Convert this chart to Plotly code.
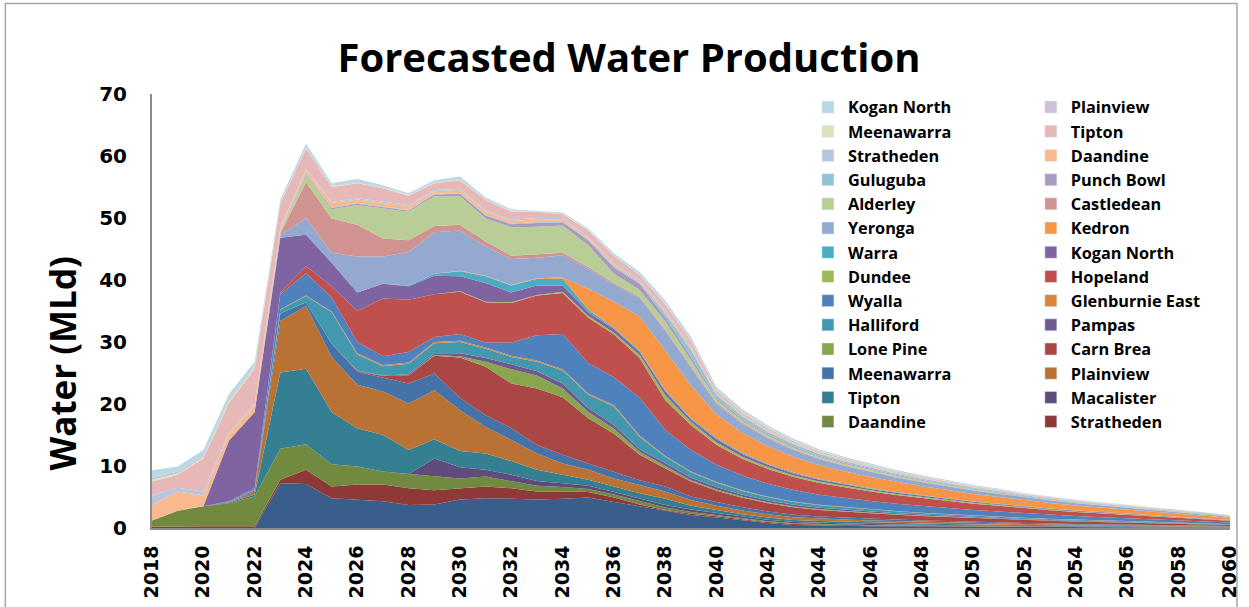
import plotly.graph_objects as go

# Forecast years
years = list(range(2018, 2061))

# Water production per field (MLd), stacked bottom-up
other = [0, 0, 0, 0, 0, 7.2, 7.1, 4.8, 4.6, 4.3, 3.7, 3.8, 4.6, 4.8, 4.7, 4.6, 4.7, 4.9, 4.2, 3.5, 2.7, 2.1, 1.7,
         1.2, 0.8, 0.5, 0.4, 0.35, 0.3, 0.27, 0.24, 0.22, 0.2, 0.18, 0.16, 0.15, 0.13, 0.12, 0.11, 0.1, 0.09, 0.08, 0.06]
stratheden_a = [0.2, 0.3, 0.3, 0.3, 0.3, 0.6, 2.3, 1.9, 2.4, 2.7, 2.7, 2.3, 1.8, 1.9, 1.7, 1.3, 1.2, 0.9, 0.7, 0.3, 0.2, 0.2, 0.2,
                0.17, 0.15, 0.13, 0.12, 0.11, 0.1, 0.09, 0.08, 0.07, 0.06, 0.06, 0.05, 0.05, 0.04, 0.04, 0.03, 0.03, 0.03, 0.02, 0.02]
daandine_a = [1.0, 2.5, 3.2, 3.7, 4.8, 5.0, 4.1, 3.6, 2.9, 2.1, 2.3, 2.2, 1.6, 1.6, 1.1, 0.9, 0.7, 0.5, 0.5, 0.5, 0.4, 0.3, 0.2,
              0.17, 0.15, 0.13, 0.12, 0.11, 0.1, 0.09, 0.08, 0.07, 0.06, 0.06, 0.05, 0.05, 0.04, 0.04, 0.03, 0.03, 0.03, 0.02, 0.02]
macalister = [0, 0, 0, 0, 0, 0, 0, 0, 0, 0, 0, 2.9, 1.8, 1.1, 1.1, 0.8, 0.6, 0.5, 0.4, 0.4, 0.4, 0.4, 0.3,
              0.26, 0.22, 0.2, 0.18, 0.16, 0.14, 0.13, 0.12, 0.11, 0.1, 0.09, 0.08, 0.07, 0.06, 0.06, 0.05, 0.05, 0.04, 0.04, 0.03]
tipton_a = [0, 0, 0, 0.1, 0.3, 12.3, 12.2, 8.4, 6.2, 5.9, 3.9, 3.1, 2.6, 2.6, 2.2, 1.8, 1.4, 1.0, 0.9, 0.9, 1.0, 0.6, 0.5,
            0.43, 0.37, 0.33, 0.29, 0.26, 0.24, 0.22, 0.2, 0.18, 0.16, 0.15, 0.13, 0.12, 0.11, 0.1, 0.09, 0.08, 0.07, 0.06, 0.05]
plainview_a = [0, 0, 0, 0, 0.5, 8.3, 10.1, 8.9, 7.0, 7.0, 7.5, 7.9, 6.6, 4.3, 3.4, 2.6, 1.8, 1.6, 1.3, 1.3, 1.2, 0.9, 0.7,
               0.6, 0.52, 0.46, 0.41, 0.37, 0.33, 0.3, 0.27, 0.25, 0.22, 0.2, 0.18, 0.16, 0.15, 0.13, 0.12, 0.11, 0.1, 0.08, 0.07]
meenawarra_a = [0, 0, 0, 0.1, 0.2, 1.2, 0.6, 2.1, 2.1, 2.3, 3.2, 2.7, 2.0, 1.9, 1.9, 1.4, 1.4, 1.0, 1.0, 0.8, 0.8, 0.6, 0.6,
                0.51, 0.45, 0.4, 0.35, 0.32, 0.29, 0.26, 0.23, 0.21, 0.19, 0.17, 0.16, 0.14, 0.13, 0.11, 0.1, 0.09, 0.08, 0.07, 0.06]
carn_brea = [0, 0, 0, 0, 0, 0, 0, 0, 0.1, 0.2, 1.3, 2.9, 6.5, 7.8, 7.2, 9.1, 9.3, 7.3, 6.2, 4.1, 2.9, 2.4, 1.8,
             1.53, 1.34, 1.19, 1.05, 0.95, 0.86, 0.77, 0.7, 0.64, 0.58, 0.52, 0.47, 0.42, 0.38, 0.34, 0.31, 0.28, 0.24, 0.21, 0.17]
lone_pine = [0, 0, 0, 0, 0, 0, 0, 0, 0, 0, 0, 0.1, 0.2, 0.8, 2.3, 2.1, 1.4, 1.0, 0.8, 0.5, 0.4, 0.2, 0.2,
             0.17, 0.15, 0.13, 0.12, 0.11, 0.1, 0.09, 0.08, 0.07, 0.06, 0.06, 0.05, 0.05, 0.04, 0.04, 0.03, 0.03, 0.03, 0.02, 0.02]
pampas = [0, 0, 0, 0, 0, 0, 0, 0, 0.1, 0.1, 0.2, 0.3, 0.5, 0.6, 0.8, 0.7, 0.8, 0.6, 0.6, 0.4, 0.5, 0.4, 0.4,
          0.34, 0.3, 0.26, 0.23, 0.21, 0.19, 0.17, 0.16, 0.14, 0.13, 0.12, 0.1, 0.09, 0.08, 0.08, 0.07, 0.06, 0.05, 0.05, 0.04]
halliford = [0, 0, 0, 0, 0.1, 0.6, 1.0, 5.1, 2.6, 1.5, 1.7, 1.6, 1.8, 1.5, 1.2, 1.5, 2.1, 2.2, 3.0, 2.0, 1.0, 0.9, 0.7,
             0.6, 0.52, 0.46, 0.41, 0.37, 0.33, 0.3, 0.27, 0.25, 0.22, 0.2, 0.18, 0.16, 0.15, 0.13, 0.12, 0.11, 0.1, 0.08, 0.07]
glenburnie_east = [0, 0, 0, 0, 0, 0.1, 0.1, 0.1, 0.2, 0.2, 0.2, 0.2, 0.2, 0.2, 0.2, 0.2, 0.2, 0.2, 0.2, 0.2, 0.1, 0.1, 0.1,
                   0.09, 0.08, 0.07, 0.06, 0.05, 0.05, 0.04, 0.04, 0.04, 0.03, 0.03, 0.03, 0.02, 0.02, 0.02, 0.02, 0.02, 0.01, 0.01, 0.01]
wyalla = [0, 0, 0, 0.1, 0.2, 2.4, 3.6, 2.3, 1.8, 1.4, 1.7, 0.8, 1.1, 0.8, 2.1, 4.1, 5.7, 4.9, 4.5, 6.1, 4.2, 3.5, 2.8,
          2.38, 2.09, 1.85, 1.64, 1.47, 1.33, 1.2, 1.09, 0.99, 0.9, 0.81, 0.73, 0.65, 0.59, 0.53, 0.48, 0.43, 0.38, 0.33, 0.26]
hopeland = [0, 0, 0, 0, 0, 0.3, 1.1, 1.8, 5.0, 9.3, 8.4, 6.9, 6.8, 6.5, 6.4, 6.4, 6.6, 7.3, 6.9, 6.4, 4.8, 4.0, 3.2,
            2.72, 2.38, 2.11, 1.87, 1.68, 1.52, 1.38, 1.25, 1.14, 1.02, 0.93, 0.83, 0.75, 0.67, 0.61, 0.54, 0.49, 0.44, 0.38, 0.3]
dundee = [0, 0, 0, 0, 0, 0, 0, 0, 0, 0, 0, 0, 0.1, 0.1, 0.1, 0.1, 0.2, 0.3, 0.3, 0.5, 0.8, 0.5, 0.4,
          0.34, 0.3, 0.26, 0.23, 0.21, 0.19, 0.17, 0.16, 0.14, 0.13, 0.12, 0.1, 0.09, 0.08, 0.08, 0.07, 0.06, 0.05, 0.05, 0.04]
kogan_north_a = [0, 0, 0, 9.8, 12.3, 8.8, 5.1, 3.8, 3.0, 2.4, 2.2, 3.0, 2.4, 3.0, 1.6, 1.5, 1.0, 0.6, 0.6, 0.5, 0.6, 0.4, 0.5,
                 0.43, 0.37, 0.33, 0.29, 0.26, 0.24, 0.22, 0.2, 0.18, 0.16, 0.15, 0.13, 0.12, 0.11, 0.1, 0.09, 0.08, 0.07, 0.06, 0.05]
warra = [0, 0, 0, 0, 0, 0, 0, 0, 0, 0, 0.1, 0.3, 0.8, 1.1, 1.1, 1.1, 1.1, 0.4, 0.2, 0.2, 0.2, 0.2, 0.2,
         0.17, 0.15, 0.13, 0.12, 0.11, 0.1, 0.09, 0.08, 0.07, 0.06, 0.06, 0.05, 0.05, 0.04, 0.04, 0.03, 0.03, 0.03, 0.02, 0.02]
kedron = [0, 0, 0, 0, 0, 0, 0, 0, 0, 0, 0, 0, 0.1, 0.1, 0.1, 0.1, 0.2, 3.4, 4.2, 5.5, 6.4, 5.3, 3.8,
          3.23, 2.83, 2.51, 2.22, 2.0, 1.81, 1.63, 1.48, 1.35, 1.22, 1.1, 0.99, 0.89, 0.8, 0.72, 0.65, 0.59, 0.52, 0.45, 0.35]
yeronga = [0, 0, 0, 0, 0, 0.4, 2.7, 1.6, 5.8, 4.4, 5.4, 6.7, 6.5, 4.7, 4.2, 3.3, 3.6, 3.2, 2.8, 3.0, 3.2, 2.9, 1.7,
           1.45, 1.27, 1.12, 0.99, 0.89, 0.81, 0.73, 0.66, 0.6, 0.54, 0.49, 0.44, 0.4, 0.36, 0.32, 0.29, 0.26, 0.23, 0.2, 0.16]
castledean = [0, 0, 0, 0, 0, 0.3, 5.8, 5.5, 5.1, 2.9, 1.9, 1.0, 0.9, 0.8, 0.5, 0.6, 0.4, 0.3, 0.2, 0.2, 0.2, 0.2, 0.2,
              0.17, 0.15, 0.13, 0.12, 0.11, 0.1, 0.09, 0.08, 0.07, 0.06, 0.06, 0.05, 0.05, 0.04, 0.04, 0.03, 0.03, 0.03, 0.02, 0.02]
alderley = [0, 0, 0, 0, 0, 0.2, 1.2, 1.5, 3.2, 4.8, 4.6, 4.8, 4.6, 3.7, 4.6, 4.4, 4.4, 3.5, 1.5, 1.1, 1.3, 0.9, 0.4,
            0.34, 0.3, 0.26, 0.23, 0.21, 0.19, 0.17, 0.16, 0.14, 0.13, 0.12, 0.1, 0.09, 0.08, 0.08, 0.07, 0.06, 0.05, 0.05, 0.04]
punch_bowl = [0, 0, 0, 0, 0, 0.1, 0.2, 0.2, 0.2, 0.2, 0.2, 0.3, 0.4, 0.5, 0.5, 0.6, 0.5, 0.8, 1.0, 1.0, 0.7, 0.6, 0.3,
              0.26, 0.22, 0.2, 0.18, 0.16, 0.14, 0.13, 0.12, 0.11, 0.1, 0.09, 0.08, 0.07, 0.06, 0.06, 0.05, 0.05, 0.04, 0.04, 0.03]
guluguba = [0, 0, 0, 0, 0, 0.1, 0.1, 0.1, 0.1, 0.1, 0.1, 0.1, 0.1, 0.1, 0.1, 0.1, 0.1, 0.1, 0.2, 0.2, 0.6, 1.1, 0.5,
            0.43, 0.37, 0.33, 0.29, 0.26, 0.24, 0.22, 0.2, 0.18, 0.16, 0.15, 0.13, 0.12, 0.11, 0.1, 0.09, 0.08, 0.07, 0.06, 0.05]
daandine_b = [2.5, 3.1, 1.8, 1.1, 1.1, 0.4, 0.5, 0.7, 0.6, 0.6, 0.6, 0.4, 0.5, 0.5, 0.4, 0.5, 0.4, 0.2, 0.3, 0.2, 0.3, 0.3, 0.2,
              0.17, 0.15, 0.13, 0.12, 0.11, 0.1, 0.09, 0.08, 0.07, 0.06, 0.06, 0.05, 0.05, 0.04, 0.04, 0.03, 0.03, 0.03, 0.02, 0.02]
stratheden_b = [1.6, 0.6, 0.6, 0.2, 0.2, 0.2, 0.2, 0.2, 0.2, 0.2, 0.2, 0.2, 0.2, 0.2, 0.2, 0.2, 0.2, 0.2, 0.2, 0.2, 0.3, 0.3, 0.2,
                0.17, 0.15, 0.13, 0.12, 0.11, 0.1, 0.09, 0.08, 0.07, 0.06, 0.06, 0.05, 0.05, 0.04, 0.04, 0.03, 0.03, 0.03, 0.02, 0.02]
tipton_b = [2.2, 2.1, 5.3, 4.8, 5.7, 3.8, 3.2, 2.4, 2.4, 2.2, 1.5, 1.1, 1.4, 1.7, 1.3, 1.0, 0.6, 1.1, 1.2, 0.8, 0.9, 0.9, 0.4,
            0.34, 0.3, 0.26, 0.23, 0.21, 0.19, 0.17, 0.16, 0.14, 0.13, 0.12, 0.1, 0.09, 0.08, 0.08, 0.07, 0.06, 0.05, 0.05, 0.04]
meenawarra_b = [0.3, 0.2, 0.2, 0.3, 0.2, 0.1, 0.1, 0.1, 0.1, 0.1, 0.1, 0.1, 0.1, 0.1, 0.1, 0.1, 0.1, 0.1, 0.1, 0.1, 0.1, 0.1, 0.1,
                0.09, 0.08, 0.07, 0.06, 0.05, 0.05, 0.04, 0.04, 0.04, 0.03, 0.03, 0.03, 0.02, 0.02, 0.02, 0.02, 0.02, 0.01, 0.01, 0.01]
plainview_b = [0.3, 0.3, 0.3, 0.3, 0.2, 0.1, 0.1, 0.1, 0.1, 0.1, 0.1, 0.1, 0.1, 0.1, 0.1, 0, 0, 0, 0, 0, 0.1, 0.1, 0,
               0.05, 0.05, 0.04, 0.04, 0.04, 0.03, 0.03, 0.03, 0.03, 0.02, 0.02, 0.02, 0.02, 0.02, 0.01, 0.01, 0.01, 0.01, 0.01, 0.01]
kogan_north_b = [1.2, 0.8, 0.9, 0.8, 0.7, 0.5, 0.6, 0.4, 0.5, 0.3, 0.2, 0.3, 0.4, 0.2, 0.2, 0.1, 0.2, 0.2, 0.3, 0.4, 0.4, 0.4, 0.4,
                 0.34, 0.3, 0.26, 0.23, 0.21, 0.19, 0.17, 0.16, 0.14, 0.13, 0.12, 0.1, 0.09, 0.08, 0.08, 0.07, 0.06, 0.05, 0.05, 0.04]

x_ticks = list(range(2018, 2061, 2))
y_ticks = list(range(0, 71, 10))

# (name, values, colour, legend column) in stacking order, bottom first
layers = [
    ("Other", other, "#3A5E8C", None),
    ("Stratheden", stratheden_a, "#8E3937", "legend2"),
    ("Daandine", daandine_a, "#718A3F", "legend"),
    ("Macalister", macalister, "#5F4B7C", "legend2"),
    ("Tipton", tipton_a, "#357F93", "legend"),
    ("Plainview", plainview_a, "#B97233", "legend2"),
    ("Meenawarra", meenawarra_a, "#4572A7", "legend"),
    ("Carn Brea", carn_brea, "#AA4643", "legend2"),
    ("Lone Pine", lone_pine, "#89A54E", "legend"),
    ("Pampas", pampas, "#71588F", "legend2"),
    ("Halliford", halliford, "#4198AF", "legend"),
    ("Glenburnie East", glenburnie_east, "#DB843D", "legend2"),
    ("Wyalla", wyalla, "#4F81BD", "legend"),
    ("Hopeland", hopeland, "#C0504D", "legend2"),
    ("Dundee", dundee, "#9BBB59", "legend"),
    ("Kogan North", kogan_north_a, "#8064A2", "legend2"),
    ("Warra", warra, "#4BACC6", "legend"),
    ("Kedron", kedron, "#F79646", "legend2"),
    ("Yeronga", yeronga, "#93A9CF", "legend"),
    ("Castledean", castledean, "#D19392", "legend2"),
    ("Alderley", alderley, "#B9CD96", "legend"),
    ("Punch Bowl", punch_bowl, "#A99BBD", "legend2"),
    ("Guluguba", guluguba, "#92C3D4", "legend"),
    ("Daandine", daandine_b, "#F9BA8F", "legend2"),
    ("Stratheden", stratheden_b, "#B8C5DE", "legend"),
    ("Tipton", tipton_b, "#E6B9B8", "legend2"),
    ("Meenawarra", meenawarra_b, "#D7E4BD", "legend"),
    ("Plainview", plainview_b, "#CCC1DA", "legend2"),
    ("Kogan North", kogan_north_b, "#B7D8E4", "legend"),
]

fig = go.Figure()
for i, (name, vals, colour, leg) in enumerate(layers):
    group = f"g{i}"
    fig.add_trace(go.Scatter(
        x=years, y=vals, name=name, stackgroup="one", mode="lines",
        line=dict(width=0, color=colour), fillcolor=colour,
        showlegend=False, legendgroup=group,
    ))
    if leg is not None:
        # square legend swatch for the area
        fig.add_trace(go.Bar(
            x=[None], y=[None], name=name, marker=dict(color=colour),
            legend=leg, legendgroup=group, showlegend=True,
        ))

text_font = "Open Sans"
num_font = "DejaVu Sans"

L, R, T, B = 152, 9, 94, 77
W, H = 1249, 607
pw, ph = W - L - R, H - T - B


def px_x(px):
    return (px - L) / pw


def px_y(py):
    return (H - B - py) / ph


legend_common = dict(
    yanchor="top", xanchor="left", traceorder="reversed",
    bgcolor="rgba(0,0,0,0)", borderwidth=0, maxheight=520,
    font=dict(family=text_font, size=16.3, color="black", weight="bold"),
)

fig.update_layout(
    width=W, height=H,
    margin=dict(l=L, r=R, t=T, b=B),
    paper_bgcolor="white", plot_bgcolor="white",
    showlegend=True,
    title=dict(
        text="Forecasted Water Production",
        x=629 / W, xanchor="center", y=1 - 58 / H, yanchor="middle", yref="container",
        font=dict(family=text_font, size=40, color="black", weight="bold"),
    ),
    xaxis=dict(
        type="linear", range=[2018, 2060], tickvals=x_ticks, tickangle=-90,
        showgrid=False, zeroline=False, showline=True, linecolor="#8C8C8C", linewidth=2,
        ticks="", ticklabelstandoff=8, ticklabeloverflow="allow",
        tickfont=dict(family=num_font, size=19, color="black", weight="bold"),
    ),
    yaxis=dict(
        range=[0, 70], tickvals=y_ticks,
        showgrid=False, zeroline=False, showline=True, linecolor="#8C8C8C", linewidth=2,
        ticks="", ticklabelstandoff=19,
        tickfont=dict(family=num_font, size=20, color="black", weight="bold"),
    ),
    legend=dict(x=px_x(814), y=px_y(90), **legend_common),
    legend2=dict(x=px_x(1039), y=px_y(90), **legend_common),
    annotations=[dict(
        text="Water (MLd)", xref="paper", yref="paper",
        x=px_x(62), y=px_y(365), xanchor="center", yanchor="middle",
        textangle=-90, showarrow=False,
        font=dict(family=text_font, size=35, color="black", weight="bold"),
    )],
    shapes=[dict(
        type="rect", xref="paper", yref="paper",
        x0=px_x(4), x1=px_x(1247), y0=px_y(650), y1=px_y(3),
        line=dict(color="#A6A6A6", width=1.5), fillcolor="rgba(0,0,0,0)", layer="below",
    )],
)

fig.write_html("out.html")
